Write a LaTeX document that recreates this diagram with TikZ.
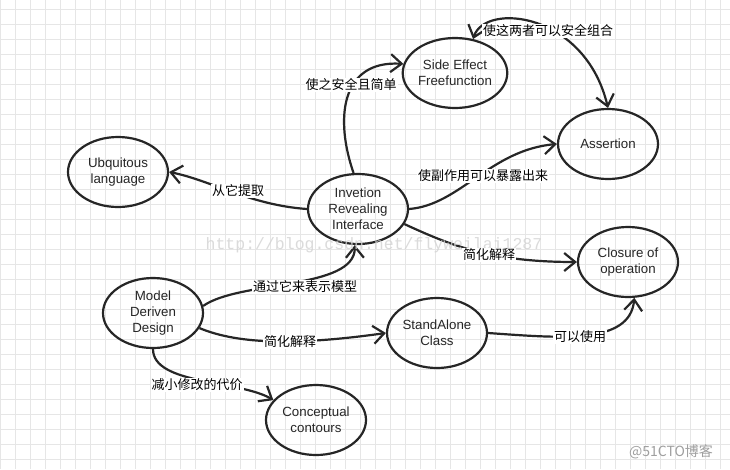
\documentclass[tikz,border=0pt]{standalone}
\usepackage{fontspec}
\setmainfont{Liberation Sans}
\newfontfamily\cjk{Noto Sans CJK SC}
\newfontfamily\wmfont{Liberation Mono}
\usetikzlibrary{shapes.geometric,arrows.meta}
\definecolor{linec}{HTML}{262626}
\definecolor{gridc}{HTML}{E6E6E6}
\tikzset{
  bubble/.style={ellipse, draw=linec, line width=2.2pt, minimum width=100pt, minimum height=70pt, inner sep=0pt, align=center, font=\fontsize{13.3}{16}\selectfont, text=black!85},
  conn/.style={draw=linec, line width=2.2pt, -{Straight Barb[length=11pt,width=18pt]}},
  conn2/.style={draw=linec, line width=2.2pt, {Straight Barb[length=11pt,width=18pt]}-{Straight Barb[length=11pt,width=18pt]}},
  lab/.style={fill=white, inner sep=1pt, font=\cjk\fontsize{13}{15}\selectfont, text=black},
  gridline/.style={draw=gridc, line width=1pt}
}
\begin{document}
\begin{tikzpicture}[x=1pt,y=-1pt]
\useasboundingbox (0,0) rectangle (730,469);
\fill[white] (0,0) rectangle (730,469);
\foreach \x in {0,15,...,720} \draw[gridline] (\x,0) -- (\x,469);
\foreach \y in {9,24,...,469} \draw[gridline] (0,\y) -- (730,\y);

\node[bubble] (se) at (455,73) {Side Effect\\Freefunction};
\node[bubble] (as) at (608,144) {Assertion};
\node[bubble] (ub) at (118,172) {Ubquitous\\language};
\node[bubble] (inv) at (358,209) {Invetion\\Revealing\\Interface};
\node[bubble] (md) at (153,313) {Model\\Deriven\\Design};
\node[bubble] (sa) at (437,333) {StandAlone\\Class};
\node[bubble] (cc) at (316,420) {Conceptual\\contours};
\node[bubble] (cl) at (628,262) {Closure of\\operation};

\draw[conn] (inv.97) .. controls (335,120) and (340,60) .. (se.170);
\draw[conn2] (se.62) .. controls (485,2) and (585,12) .. (as.north);
\draw[conn] (inv.east) .. controls (460,205) and (490,150) .. (as.west);
\draw[conn] (inv.west) .. controls (250,205) and (210,180) .. (ub.east);
\draw[conn] (md.8) .. controls (240,280) and (355,290) .. (inv.265);
\draw[conn] (md.-18) .. controls (240,345) and (300,345) .. (sa.west);
\draw[conn] (md.south) .. controls (153,385) and (240,380) .. (cc.155);
\draw[conn] (inv.-18) .. controls (450,245) and (490,262) .. (cl.west);
\draw[conn] (sa.east) .. controls (560,338) and (630,345) .. (cl.280);

\node[font=\wmfont\fontsize{16.5}{16}\selectfont, text=gray!35, opacity=0.8] (wm) at (374,245) {http://blog.csdn.net/flyweilai1287};

\node[lab] (l1) at (351,85) {使之安全且简单};
\node[lab] (l2) at (548,31) {使这两者可以安全组合};
\node[lab] (l3) at (483,176) {使副作用可以暴露出来};
\node[lab] (l4) at (238,191) {从它提取};
\node[lab] (l5) at (489,255) {简化解释};
\node[lab] (l6) at (305,287) {通过它来表示模型};
\node[lab] (l7) at (290,342) {简化解释};
\node[lab] (l8) at (197,385) {减小修改的代价};
\node[lab] (l9) at (580,337) {可以使用};

\node[font=\cjk\fontsize{14}{16}\selectfont, text=gray!75] (wm2) at (671,452) {@51CTO博客};
\end{tikzpicture}
\end{document}
